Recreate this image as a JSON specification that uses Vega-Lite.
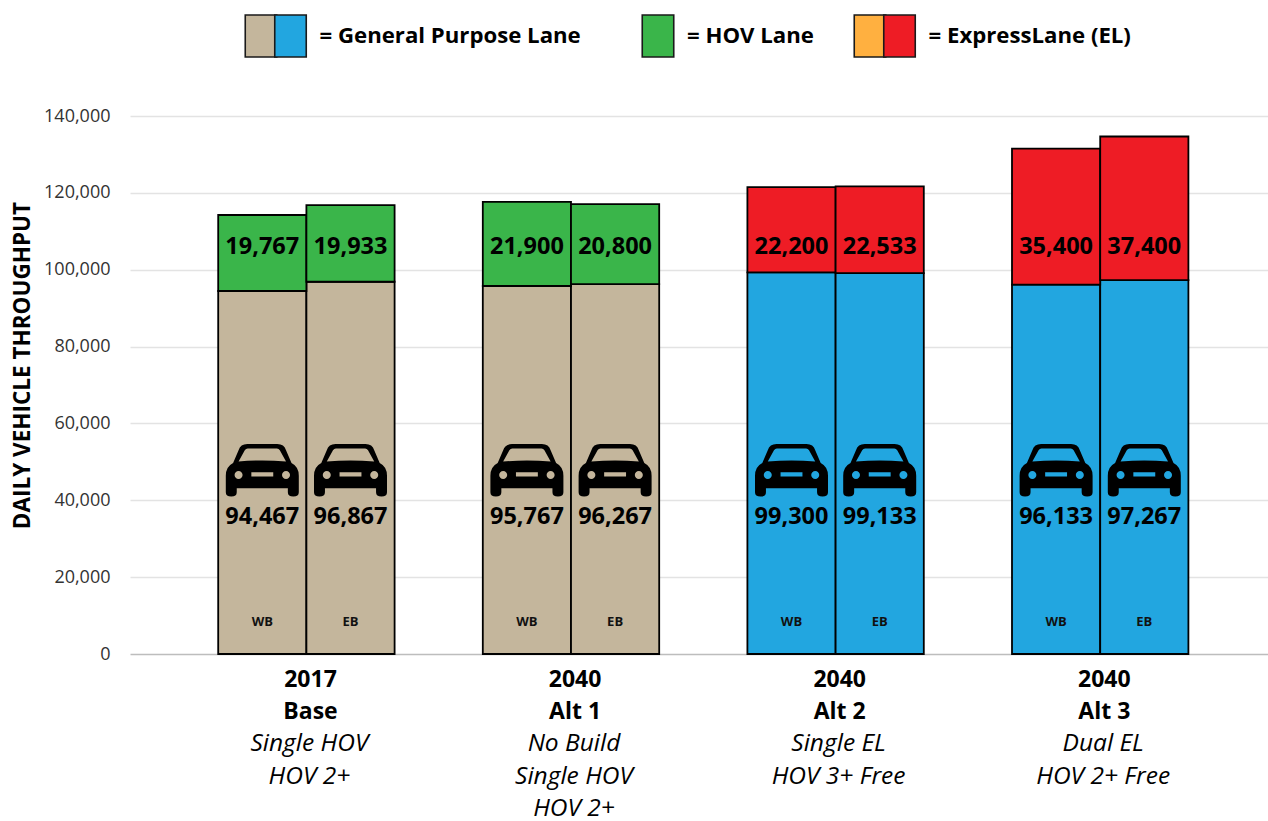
{
"$schema":"https://vega.github.io/schema/vega-lite/v6.json",
"width":1138,"height":538,
"autosize":{"type":"none"},
"padding":{"left":130,"top":116,"right":0,"bottom":167},
"background":"white",
"config":{"view":{"stroke":null},"font":"Open Sans",
"legend":{"title":null,"orient":"none","legendY":-102,"direction":"horizontal","gridAlign":"none","symbolType":"M-0.75,-1 L0.75,-1 L0.75,1 L-0.75,1 Z","symbolSize":1764,"symbolStrokeColor":"#1a1a1a","symbolStrokeWidth":1.6,"symbolOpacity":1,"labelOffset":7,"labelFont":"Open Sans","labelFontSize":22.2,"labelFontWeight":"bold","labelColor":"#000","labelLimit":0}},
"datasets":{
"bars":[
{"bar":"Base WB","dir":"WB","lane":"General purpose (existing)","order":1,"value":94467},
{"bar":"Base WB","dir":"WB","lane":"HOV","order":2,"value":19767},
{"bar":"Base EB","dir":"EB","lane":"General purpose (existing)","order":1,"value":96867},
{"bar":"Base EB","dir":"EB","lane":"HOV","order":2,"value":19933},
{"bar":"Alt 1 WB","dir":"WB","lane":"General purpose (existing)","order":1,"value":95767},
{"bar":"Alt 1 WB","dir":"WB","lane":"HOV","order":2,"value":21900},
{"bar":"Alt 1 EB","dir":"EB","lane":"General purpose (existing)","order":1,"value":96267},
{"bar":"Alt 1 EB","dir":"EB","lane":"HOV","order":2,"value":20800},
{"bar":"Alt 2 WB","dir":"WB","lane":"General purpose (build)","order":1,"value":99300},
{"bar":"Alt 2 WB","dir":"WB","lane":"ExpressLane","order":2,"value":22200},
{"bar":"Alt 2 EB","dir":"EB","lane":"General purpose (build)","order":1,"value":99133},
{"bar":"Alt 2 EB","dir":"EB","lane":"ExpressLane","order":2,"value":22533},
{"bar":"Alt 3 WB","dir":"WB","lane":"General purpose (build)","order":1,"value":96133},
{"bar":"Alt 3 WB","dir":"WB","lane":"ExpressLane","order":2,"value":35400},
{"bar":"Alt 3 EB","dir":"EB","lane":"General purpose (build)","order":1,"value":97267},
{"bar":"Alt 3 EB","dir":"EB","lane":"ExpressLane","order":2,"value":37400}
],
"notes":[
{"bar":"Base EB","note":"Single HOV\nHOV 2+"},
{"bar":"Alt 1 EB","note":"No Build\nSingle HOV\nHOV 2+"},
{"bar":"Alt 2 EB","note":"Single EL\nHOV 3+ Free"},
{"bar":"Alt 3 EB","note":"Dual EL\nHOV 2+ Free"}
]
},
"data":{"name":"bars"},
"encoding":{
"x":{"field":"bar","type":"nominal","sort":null,
"scale":{"type":"band","domain":["g0","Base WB","Base EB","g1","Alt 1 WB","Alt 1 EB","g2","Alt 2 WB","Alt 2 EB","g3","Alt 3 WB","Alt 3 EB","g4"],"range":[0,1146.6],"paddingInner":0,"paddingOuter":0},
"axis":{"title":null,"values":["Base EB","Alt 1 EB","Alt 2 EB","Alt 3 EB"],"ticks":false,"domain":false,"grid":false,"labelAngle":0,"labelAlign":"center","labelOffset":-40,"labelBaseline":"top","labelPadding":14,"labelOverlap":false,"labelBound":false,"labelFlush":false,"labelFont":"Open Sans","labelFontSize":23,"labelFontWeight":"bold","labelColor":"#000","labelLineHeight":32.5,
"labelExpr":"datum.value=='Base EB'?['2017','Base']:datum.value=='Alt 1 EB'?['2040','Alt 1']:datum.value=='Alt 2 EB'?['2040','Alt 2']:['2040','Alt 3']"}}
},
"resolve":{"scale":{"color":"independent"},"legend":{"color":"independent"}},
"layer":[
{"transform":[{"stack":"value","groupby":["bar"],"sort":[{"field":"order","order":"ascending"}],"as":["y0","y1"]},{"filter":"datum.order==1"}],
"mark":{"type":"bar","stroke":"#000","strokeWidth":1.8},
"encoding":{
"y":{"field":"y0","type":"quantitative",
"scale":{"domain":[0,140000],"nice":false},
"axis":{"title":"DAILY VEHICLE THROUGHPUT","values":[0,20000,40000,60000,80000,100000,120000,140000],"format":",.0f","domain":false,"ticks":false,"grid":true,"gridColor":{"condition":{"test":"datum.value===0","value":"#bdbdbd"},"value":"#e3e3e3"},"gridWidth":1.3,"labelFont":"Open Sans","labelFontSize":18,"labelColor":"#333","labelPadding":20,"titleFont":"Open Sans","titleFontSize":22.5,"titleFontWeight":"bold","titleColor":"#000","titleX":-96,"titleY":249}},
"y2":{"field":"y1"},
"color":{"field":"lane","type":"nominal",
"scale":{"domain":["General purpose (existing)","General purpose (build)"],"range":["#C4B69C","#22A6E0"]},
"legend":{"legendX":109,"columns":2,"columnPadding":-21.5,"labelExpr":"datum.value=='General purpose (build)'?'= General Purpose Lane':''"}}}},
{"transform":[{"stack":"value","groupby":["bar"],"sort":[{"field":"order","order":"ascending"}],"as":["y0","y1"]},{"filter":"datum.lane=='HOV'"}],
"mark":{"type":"bar","stroke":"#000","strokeWidth":1.8},
"encoding":{
"y":{"field":"y0","type":"quantitative"},
"y2":{"field":"y1"},
"color":{"field":"lane","type":"nominal",
"scale":{"domain":["HOV"],"range":["#3AB54A"]},
"legend":{"legendX":506,"labelExpr":"'= HOV Lane'"}}}},
{"transform":[{"stack":"value","groupby":["bar"],"sort":[{"field":"order","order":"ascending"}],"as":["y0","y1"]},{"filter":"datum.lane=='ExpressLane'"}],
"mark":{"type":"bar","stroke":"#000","strokeWidth":1.8},
"encoding":{
"y":{"field":"y0","type":"quantitative"},
"y2":{"field":"y1"},
"color":{"field":"lane","type":"nominal",
"scale":{"domain":["ExpressLane (free)","ExpressLane"],"range":["#FFB040","#EE1C25"]},
"legend":{"legendX":718,"columns":2,"columnPadding":-21.5,"labelExpr":"datum.value=='ExpressLane'?'= ExpressLane (EL)':''"}}}},
{"transform":[{"filter":"datum.order==1"}],
"mark":{"type":"point","filled":true,"opacity":1,"color":"#000","strokeWidth":0,
"shape":"M-0.41,-0.72 L0.41,-0.72 Q0.6,-0.72 0.65,-0.55 L0.8,-0.2 Q1,-0.1 1,0.15 L1,0.6 Q1,0.72 0.85,0.72 Q0.7,0.72 0.7,0.6 L0.7,0.49 L-0.7,0.49 L-0.7,0.6 Q-0.7,0.72 -0.85,0.72 Q-1,0.72 -1,0.6 L-1,0.15 Q-1,-0.1 -0.8,-0.2 L-0.65,-0.55 Q-0.6,-0.72 -0.41,-0.72 Z M-0.65,-0.24 Q0,-0.3 0.65,-0.24 L0.48,-0.55 Q0.45,-0.6 0.4,-0.6 L-0.4,-0.6 Q-0.45,-0.6 -0.48,-0.55 Z M-0.76,0.13 A0.11,0.11 0 1 0 -0.54,0.13 A0.11,0.11 0 1 0 -0.76,0.13 Z M0.54,0.13 A0.11,0.11 0 1 0 0.76,0.13 A0.11,0.11 0 1 0 0.54,0.13 Z M-0.3,0.05 L-0.3,0.17 L0.3,0.17 L0.3,0.05 Z"},
"encoding":{"y":{"datum":47800},"size":{"value":5329}}},
{"transform":[{"filter":"datum.order==1"}],
"mark":{"type":"text","font":"Open Sans","fontSize":23.5,"fontWeight":"bold","color":"#000","baseline":"middle"},
"encoding":{"y":{"datum":35650},"text":{"field":"value","type":"quantitative","format":","}}},
{"transform":[{"filter":"datum.order==2"}],
"mark":{"type":"text","font":"Open Sans","fontSize":23.5,"fontWeight":"bold","color":"#000","baseline":"middle"},
"encoding":{"y":{"datum":105800},"text":{"field":"value","type":"quantitative","format":","}}},
{"transform":[{"filter":"datum.order==1"}],
"mark":{"type":"text","font":"Open Sans","fontSize":13,"fontWeight":"bold","color":"#111","baseline":"middle"},
"encoding":{"y":{"datum":8300},"text":{"field":"dir","type":"nominal"}}},
{"data":{"name":"notes"},
"mark":{"type":"text","font":"Open Sans","fontSize":24.5,"fontStyle":"italic","color":"#000","baseline":"middle","lineBreak":"\n","lineHeight":32.5,"dx":3},
"encoding":{"x":{"field":"bar","type":"nominal","bandPosition":0},"y":{"datum":-23450},"text":{"field":"note","type":"nominal"}}}
]
}
